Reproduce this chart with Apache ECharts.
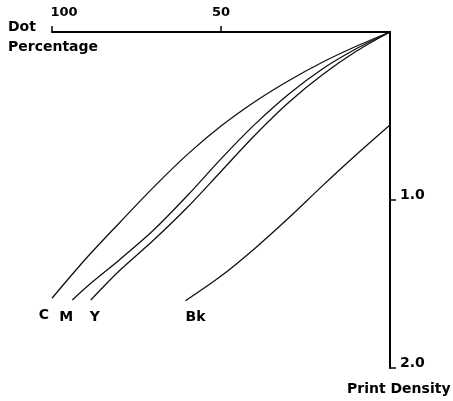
<!DOCTYPE html>
<html><head><meta charset="utf-8">
<script src="https://cdn.jsdelivr.net/npm/echarts@6/dist/echarts.min.js"></script>
<style>html,body{margin:0;padding:0;background:#fff}#c{width:453px;height:401px}</style>
</head><body><div id="c"></div>
<script>
// Tick values
const xTicks = [50, 100];
const yTicks = [1, 2];
// Dot percentage (x) and print density (y) per ink
const cDot  = [0, 10, 20, 30, 40, 50, 60, 70, 80, 90, 100];
const cDen  = [0, 0.085, 0.18, 0.29, 0.415, 0.56, 0.73, 0.925, 1.135, 1.35, 1.585];
const mDot  = [0, 10, 20, 30, 40, 50, 60, 70, 80, 88, 94];
const mDen  = [0, 0.10, 0.22, 0.37, 0.55, 0.755, 0.975, 1.18, 1.355, 1.487, 1.595];
const yDot  = [0, 10, 20, 30, 40, 50, 60, 70, 80, 88.5];
const yDen  = [0, 0.115, 0.255, 0.42, 0.615, 0.83, 1.045, 1.24, 1.42, 1.595];
const bkDot = [0, 10, 20, 30, 40, 50, 60.5];
const bkDen = [0.554, 0.731, 0.916, 1.107, 1.288, 1.453, 1.60];

const FONT = 'DejaVu Sans';
const txt = {fontFamily: FONT, fontWeight: 'bold', color: '#000'};

function lineSeries(name, xs, ys, off) {
  const last = xs.length - 1;
  const data = xs.map((x, i) => {
    const p = [x, ys[i]];
    if (i !== last) return p;
    return {value: p, label: {show: true, formatter: name, position: 'bottom',
      distance: 10, offset: off, fontSize: 14, ...txt}};
  });
  return {type: 'line', name, data, smooth: 0.3,
    symbol: 'circle', symbolSize: 0.1, showSymbol: true,
    itemStyle: {color: 'rgba(0,0,0,0)'},
    lineStyle: {color: '#111', width: 1.3}, label: {show: false}, z: 3, silent: true};
}

const chart = echarts.init(document.getElementById('c'), null, {renderer: 'canvas'});
chart.setOption({
  animation: false,
  backgroundColor: '#fff',
  title: [
    {text: 'Dot\nPercentage', left: 8, top: 17, padding: 0,
      textStyle: {...txt, fontSize: 14, lineHeight: 20}},
    {text: 'Print Density', left: 347, top: 382, padding: 0,
      textStyle: {...txt, fontSize: 14}}
  ],
  grid: {left: 52, right: 63, top: 32, bottom: 33, containLabel: false},
  xAxis: {
    type: 'value', position: 'top', inverse: true, min: 0, max: 100, interval: 50,
    axisLine: {show: true, lineStyle: {color: '#000', width: 2}},
    axisTick: {show: true, length: 6, customValues: xTicks, lineStyle: {color: '#000', width: 1.5}},
    axisLabel: {show: true, customValues: xTicks, margin: 13, fontSize: 13, ...txt,
      formatter: v => v === 0 ? '' : (v === 100 ? '{l|100}' : '{n|' + v + '}'),
      rich: {l: {padding: [0, 0, 0, 24], fontSize: 13, ...txt}, n: {fontSize: 13, ...txt}}},
    splitLine: {show: false}
  },
  yAxis: {
    type: 'value', position: 'right', inverse: true, min: 0, max: 2, interval: 1,
    axisLine: {show: true, lineStyle: {color: '#000', width: 2}},
    axisTick: {show: true, length: 6, customValues: yTicks, lineStyle: {color: '#000', width: 1.5}},
    axisLabel: {show: true, customValues: yTicks, margin: 10, fontSize: 14, ...txt,
      formatter: v => v === 0 ? '' : '{a|' + v.toFixed(1) + '}',
      rich: {a: {padding: [0, 0, 10, 0], fontSize: 14, ...txt}}},
    splitLine: {show: false}
  },
  series: [
    lineSeries('C', cDot, cDen, [-8, 0]),
    lineSeries('M', mDot, mDen, [-6, 0]),
    lineSeries('Y', yDot, yDen, [4, 0]),
    lineSeries('Bk', bkDot, bkDen, [10, 0])
  ]
});
</script></body></html>
